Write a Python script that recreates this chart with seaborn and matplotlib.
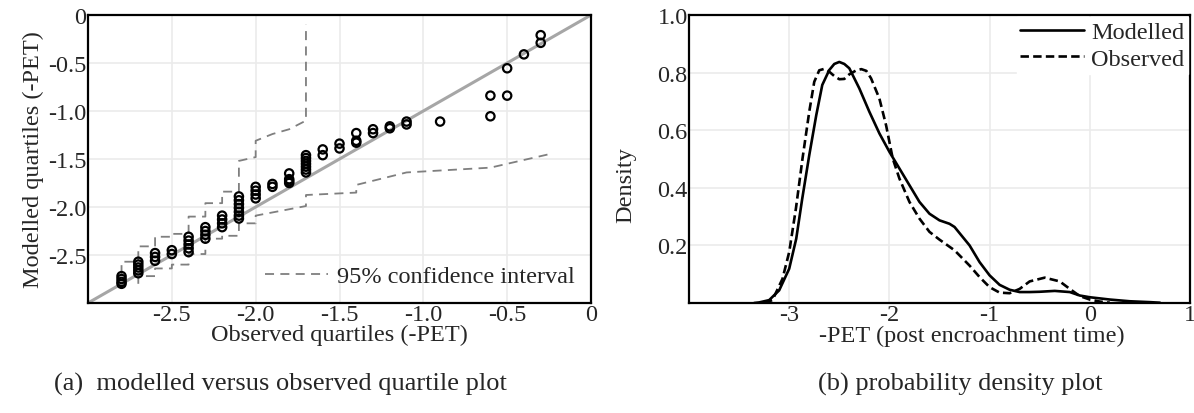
import numpy as np
import pandas as pd
import matplotlib
matplotlib.use("Agg")
import matplotlib.pyplot as plt
import seaborn as sns

# ---------------- data ----------------
obs_q = ([-2.8] * 4 + [-2.7] * 5 + [-2.6] * 3 + [-2.5] * 2 + [-2.4] * 5 + [-2.3] * 4 +
         [-2.2] * 4 + [-2.1] * 7 + [-2.0] * 4 + [-1.9] * 2 + [-1.8] * 4 + [-1.7] * 7 +
         [-1.6] * 2 + [-1.5] * 2 + [-1.4] * 3 + [-1.3] * 2 + [-1.2] * 2 + [-1.1] * 2 +
         [-0.9] + [-0.6] * 2 + [-0.5] * 2 + [-0.4] + [-0.3] * 2)
mod_q = [-2.72, -2.75, -2.78, -2.80,
         -2.57, -2.60, -2.63, -2.66, -2.69,
         -2.48, -2.52, -2.56,
         -2.45, -2.49,
         -2.31, -2.35, -2.39, -2.43, -2.47,
         -2.21, -2.25, -2.29, -2.33,
         -2.09, -2.13, -2.17, -2.21,
         -1.89, -1.93, -1.97, -2.01, -2.05, -2.09, -2.12,
         -1.79, -1.83, -1.87, -1.91,
         -1.76, -1.79,
         -1.65, -1.71, -1.73, -1.75,
         -1.46, -1.49, -1.52, -1.55, -1.58, -1.61, -1.64,
         -1.40, -1.46,
         -1.34, -1.39,
         -1.23, -1.31, -1.33,
         -1.19, -1.23,
         -1.16, -1.18,
         -1.11, -1.14,
         -1.11,
         -0.84, -1.055,
         -0.555, -0.84,
         -0.41,
         -0.21, -0.29]

ci_upper_x = [-2.8, -2.8, -2.7, -2.7, -2.6, -2.6, -2.5, -2.5, -2.4, -2.4, -2.3, -2.3,
              -2.2, -2.2, -2.1, -2.1, -2.0, -2.0, -1.9, -1.8, -1.7, -1.7]
ci_upper_y = [-2.70, -2.57, -2.57, -2.41, -2.41, -2.31, -2.31, -2.28, -2.28, -2.10, -2.10, -1.96,
              -1.96, -1.84, -1.84, -1.52, -1.48, -1.31, -1.24, -1.19, -1.10, -0.10]
ci_lower_x = [-2.7, -2.7, -2.6, -2.6, -2.5, -2.5, -2.4, -2.4, -2.3, -2.3, -2.2, -2.2,
              -2.1, -2.1, -2.0, -2.0, -1.7, -1.7, -1.4, -1.4, -1.1, -0.6, -0.5, -0.25]
ci_lower_y = [-2.80, -2.72, -2.72, -2.64, -2.64, -2.60, -2.60, -2.49, -2.49, -2.33, -2.33, -2.30,
              -2.30, -2.17, -2.17, -2.09, -1.99, -1.875, -1.85, -1.77, -1.64, -1.59, -1.55, -1.45]

dens_mod_x = [-3.35, -3.3, -3.2, -3.1, -3.0, -2.93, -2.87, -2.8, -2.73, -2.67, -2.6, -2.55, -2.5,
              -2.45, -2.4, -2.3, -2.2, -2.1, -2.0, -1.9, -1.8, -1.7, -1.6, -1.5, -1.4, -1.35,
              -1.2, -1.1, -1.0, -0.9, -0.8, -0.7, -0.6, -0.5, -0.35, -0.2, -0.1, 0.0, 0.2,
              0.4, 0.6, 0.7]
dens_mod_y = [0.0, 0.002, 0.01, 0.044, 0.119, 0.223, 0.362, 0.513, 0.652, 0.757, 0.809, 0.83, 0.837,
              0.83, 0.815, 0.745, 0.664, 0.589, 0.525, 0.467, 0.409, 0.351, 0.31, 0.287, 0.275, 0.264,
              0.2, 0.142, 0.096, 0.063, 0.046, 0.038, 0.038, 0.039, 0.042, 0.038, 0.026, 0.02, 0.012,
              0.006, 0.003, 0.001]
dens_obs_x = [-3.25, -3.167, -3.067, -3.0, -2.933, -2.867, -2.8, -2.75, -2.7, -2.65, -2.6, -2.55,
              -2.5, -2.45, -2.4, -2.33, -2.28, -2.23, -2.183, -2.1, -2.033, -1.967, -1.9, -1.8,
              -1.7, -1.6, -1.5, -1.35, -1.2, -1.1, -1.0, -0.9, -0.8, -0.7, -0.6, -0.45, -0.3,
              -0.2, -0.1, 0.0, 0.1, 0.2]
dens_obs_y = [0.0, 0.01, 0.084, 0.177, 0.328, 0.502, 0.664, 0.768, 0.808, 0.813, 0.803, 0.788,
              0.777, 0.778, 0.794, 0.808, 0.812, 0.806, 0.78, 0.71, 0.617, 0.502, 0.432, 0.351,
              0.293, 0.247, 0.22, 0.183, 0.13, 0.09, 0.055, 0.036, 0.034, 0.049, 0.075, 0.088,
              0.075, 0.049, 0.024, 0.012, 0.005, 0.001]

left_xticks = [-2.5, -2.0, -1.5, -1.0, -0.5, 0.0]
left_xticklabels = ["-2.5", "-2.0", "-1.5", "-1.0", "-0.5", "0"]
left_yticks = [0.0, -0.5, -1.0, -1.5, -2.0, -2.5]
left_yticklabels = ["0", "-0.5", "-1.0", "-1.5", "-2.0", "-2.5"]
right_xticks = [-3, -2, -1, 0, 1]
right_xticklabels = ["-3", "-2", "-1", "0", "1"]
right_yticks = [0.2, 0.4, 0.6, 0.8, 1.0]
right_yticklabels = ["0.2", "0.4", "0.6", "0.8", "1.0"]

# ---------------- style ----------------
sns.set_style("white")
plt.rcParams["font.family"] = ["Liberation Serif", "DejaVu Serif"]
FS = 17.5
CAP = 19
GRID = "#ebebeb"
CI_DASH = (0, (5, 3.5))
OBS_DASH = (0, (3.2, 1.6))

fig = plt.figure(figsize=(11.94, 4.14), dpi=100)
axL = fig.add_axes([88 / 1194, 1 - 304 / 414, 503 / 1194, 288 / 414])
axR = fig.add_axes([689 / 1194, 1 - 304 / 414, 501 / 1194, 288 / 414])


def new_lines(ax, before):
    return [ln for ln in ax.get_lines() if ln not in before]


# ---------------- left: QQ plot ----------------
qq = pd.DataFrame({"obs": obs_q, "mod": mod_q})
axL.set_axisbelow(True)

diag = pd.DataFrame({"x": [-3.0, 0.0], "y": [-3.0, 0.0]})
sns.lineplot(data=diag, x="x", y="y", ax=axL, color="#a6a6a6", lw=2.2, zorder=2)

up = pd.DataFrame({"x": ci_upper_x, "y": ci_upper_y})
lo = pd.DataFrame({"x": ci_lower_x, "y": ci_lower_y})
before = list(axL.get_lines())
sns.lineplot(data=up, x="x", y="y", ax=axL, sort=False, estimator=None, color="#7f7f7f",
             lw=1.3, zorder=1, label="95% confidence interval")
sns.lineplot(data=lo, x="x", y="y", ax=axL, sort=False, estimator=None, color="#7f7f7f",
             lw=1.3, zorder=1)
for ln in new_lines(axL, before):
    ln.set_linestyle(CI_DASH)

sns.scatterplot(data=qq, x="obs", y="mod", ax=axL, marker="o", s=36, facecolor="none",
                edgecolor="black", linewidth=1.6, zorder=3)

axL.set_xlim(-3, 0)
axL.set_ylim(-3, 0)
axL.set_xticks(left_xticks)
axL.set_xticklabels(left_xticklabels, fontsize=FS)
axL.set_yticks(left_yticks)
axL.set_yticklabels(left_yticklabels, fontsize=FS)
axL.grid(True, color=GRID, lw=1.2)
axL.tick_params(length=0, pad=1)
axL.set_xlabel("Observed quartiles (-PET)", fontsize=FS, labelpad=-1)
axL.set_ylabel("Modelled quartiles (-PET)", fontsize=FS, labelpad=3)
leg = axL.legend(loc="lower right", frameon=False, fontsize=FS, handlelength=2.6,
                 handletextpad=0.4, borderaxespad=0.25)
leg.get_lines()[0].set_linestyle(CI_DASH)
for s in axL.spines.values():
    s.set_color("black")
    s.set_linewidth(1.6)

# ---------------- right: density plot ----------------
axR.set_axisbelow(True)
dm = pd.DataFrame({"x": dens_mod_x, "y": dens_mod_y})
do = pd.DataFrame({"x": dens_obs_x, "y": dens_obs_y})
sns.lineplot(data=dm, x="x", y="y", ax=axR, color="black", lw=1.9, label="Modelled", zorder=3)
before = list(axR.get_lines())
sns.lineplot(data=do, x="x", y="y", ax=axR, color="black", lw=1.9, label="Observed", zorder=3)
for ln in new_lines(axR, before):
    ln.set_linestyle(OBS_DASH)

axR.set_xlim(-4, 1)
axR.set_ylim(0, 1)
axR.set_xticks(right_xticks)
axR.set_xticklabels(right_xticklabels, fontsize=FS)
axR.set_yticks(right_yticks)
axR.set_yticklabels(right_yticklabels, fontsize=FS)
axR.grid(True, color=GRID, lw=1.2)
axR.tick_params(length=0, pad=1)
axR.set_xlabel("-PET (post encroachment time)", fontsize=FS)
axR.xaxis.set_label_coords(0.565, -0.075, transform=axR.transAxes)
axR.xaxis.label.set_va("top")
axR.set_ylabel("Density", fontsize=FS)
axR.yaxis.set_label_coords(-0.105, 0.413, transform=axR.transAxes)
legR = axR.legend(loc="upper right", frameon=True, fontsize=FS, handlelength=2.6,
                  handletextpad=0.3, borderaxespad=0.1, borderpad=0.15, labelspacing=0.2,
                  fancybox=False)
legR.get_frame().set_edgecolor("white")
legR.get_frame().set_facecolor("white")
legR.get_frame().set_alpha(1)
legR.get_lines()[1].set_linestyle(OBS_DASH)
for s in axR.spines.values():
    s.set_color("black")
    s.set_linewidth(1.6)

fig.text(280 / 1194, 1 - 384 / 414, "(a)  modelled versus observed quartile plot",
         ha="center", va="center", fontsize=CAP)
fig.text(960 / 1194, 1 - 384 / 414, "(b) probability density plot",
         ha="center", va="center", fontsize=CAP)

fig.savefig("out.png", dpi=100)
